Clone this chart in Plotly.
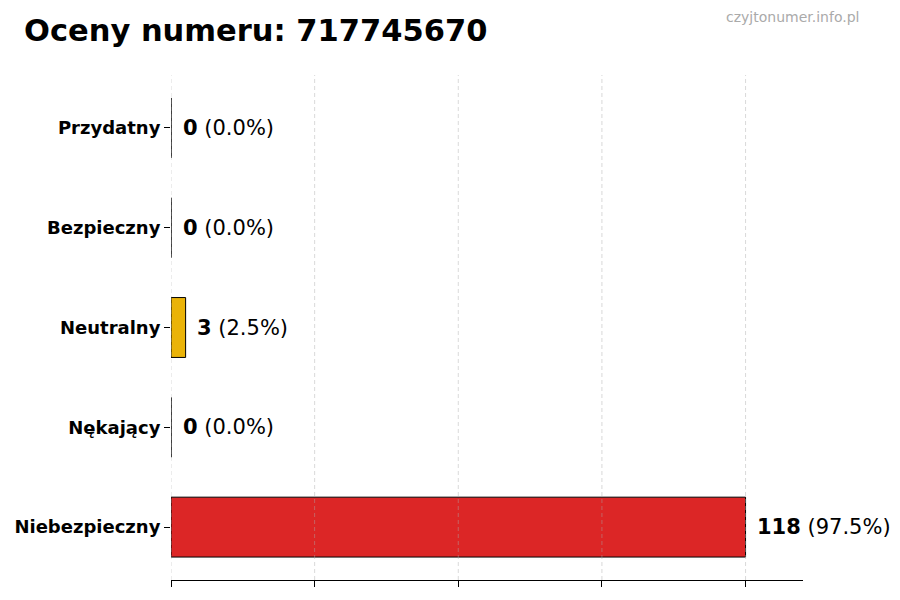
import plotly.graph_objects as go

# ratings for the number, top to bottom as in the chart
categories = ['Przydatny', 'Bezpieczny', 'Neutralny', 'Nękający', 'Niebezpieczny']
counts = [0, 0, 3, 0, 118]
colors = ['#16a34a', '#2563eb', '#eab308', '#f97316', '#dc2626']
title = 'Oceny numeru: 717745670'
watermark = 'czyjtonumer.info.pl'

total = sum(counts)
max_count = max(counts)
grid_vals = [max_count * i / 4 for i in range(5)]

# the page body adds an 8px margin, so the figure is made a bit smaller
W, H = 892, 592

fig = go.Figure()

fig.add_trace(go.Bar(
    x=counts,
    y=categories,
    orientation='h',
    width=0.6,
    marker=dict(color=colors, line=dict(color='black', width=1)),
    hoverinfo='skip',
))

# value labels next to each bar
for cat, val in zip(categories, counts):
    pct = val / total * 100
    fig.add_annotation(
        x=val, y=cat, xref='x', yref='y',
        text='<b>{}</b> ({:.1f}%)'.format(val, pct),
        showarrow=False, xanchor='left', yanchor='middle', xshift=9.5,
        font=dict(family='DejaVu Sans', size=21, color='black'),
    )

# dashed grid drawn over the bars
for gv in grid_vals:
    fig.add_shape(type='line', xref='x', yref='paper', x0=gv, x1=gv, y0=0, y1=1,
                  line=dict(color='rgba(170,170,170,0.45)', width=1, dash='4px,3px'),
                  layer='above')

fig.add_annotation(
    x=1.092, y=1.115, xref='paper', yref='paper',
    text=watermark, showarrow=False, xanchor='right', yanchor='middle',
    font=dict(family='DejaVu Sans', size=14, color='#aaaaaa'),
)

fig.update_xaxes(
    range=[0, max_count * 1.1],
    tickvals=grid_vals, showticklabels=False,
    ticks='outside', ticklen=6, tickcolor='black',
    showline=True, linecolor='black', linewidth=1,
    showgrid=False, zeroline=False, automargin=False,
)
fig.update_yaxes(
    categoryorder='array', categoryarray=categories[::-1],
    range=[-0.53, 4.53],
    ticks='outside', ticklen=6, tickcolor='black',
    tickfont=dict(family='DejaVu Sans', size=18, color='black', weight='bold'),
    showline=False, showgrid=False, zeroline=False, automargin=False,
)

fig.update_layout(
    width=W, height=H,
    margin=dict(l=163, r=97, t=67, b=20),
    title=dict(text='<b>' + title + '</b>', xref='container', yref='container',
               x=16 / W, y=1 - 22 / H, xanchor='left', yanchor='middle',
               font=dict(family='DejaVu Sans', size=30.5, color='black')),
    plot_bgcolor='white', paper_bgcolor='white',
    showlegend=False,
    bargap=0.4,
)

fig.write_html('out.html')
